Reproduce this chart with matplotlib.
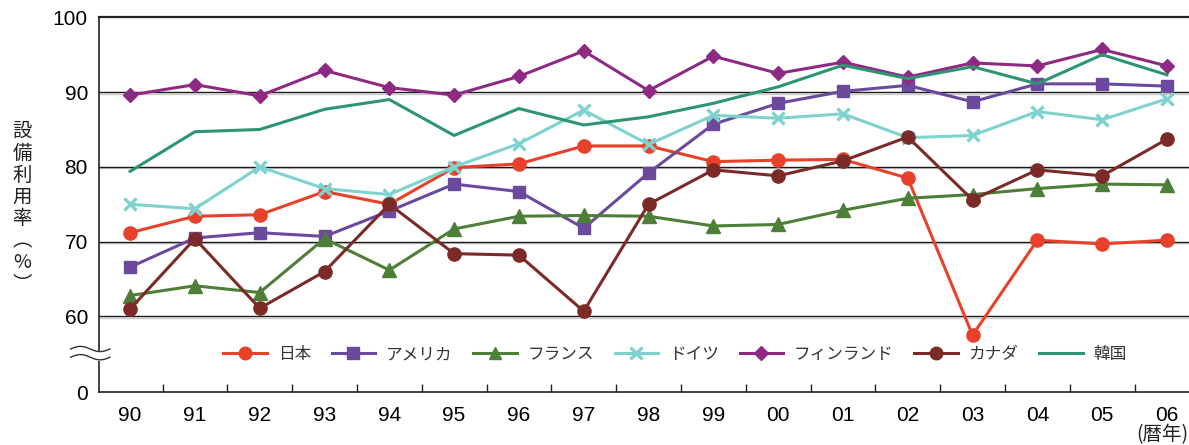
import numpy as np
import matplotlib.pyplot as plt
import matplotlib.transforms as mtransforms

plt.rcParams['font.family'] = ['Liberation Sans', 'Noto Sans CJK JP', 'DejaVu Sans']

# data (capacity factor, %)
years = ['90', '91', '92', '93', '94', '95', '96', '97', '98', '99',
         '00', '01', '02', '03', '04', '05', '06']
japan = [71.2, 73.4, 73.6, 76.7, 75.0, 79.9, 80.4, 82.8, 82.8, 80.7,
         80.9, 81.0, 78.5, 57.5, 70.2, 69.7, 70.2]
usa = [66.6, 70.5, 71.2, 70.7, 74.1, 77.7, 76.7, 71.8, 79.2, 85.7,
       88.5, 90.1, 90.9, 88.7, 91.1, 91.1, 90.8]
france = [62.8, 64.1, 63.2, 70.4, 66.2, 71.7, 73.4, 73.5, 73.4, 72.1,
          72.3, 74.2, 75.8, 76.3, 77.1, 77.7, 77.6]
germany = [75.0, 74.4, 80.0, 77.1, 76.3, 80.0, 83.1, 87.6, 83.0, 86.9,
           86.5, 87.1, 83.9, 84.2, 87.4, 86.3, 89.1]
finland = [89.6, 91.0, 89.5, 92.9, 90.6, 89.6, 92.1, 95.5, 90.2, 94.8,
           92.5, 94.0, 92.0, 93.9, 93.5, 95.7, 93.5]
canada = [61.0, 70.4, 61.1, 66.0, 75.0, 68.4, 68.2, 60.7, 75.0, 79.6,
          78.8, 80.8, 84.0, 75.6, 79.6, 78.8, 83.7]
korea = [79.4, 84.7, 85.0, 87.7, 89.0, 84.2, 87.8, 85.6, 86.7, 88.5,
         90.7, 93.6, 91.8, 93.4, 91.1, 95.0, 92.3]

series_names = ['日本', 'アメリカ', 'フランス', 'ドイツ', 'フィンランド', 'カナダ', '韓国']
series_data = [japan, usa, france, germany, finland, canada, korea]
colors = ['#E8412A', '#6B4A9E', '#4E7F38', '#7FD3CF', '#8E2A84', '#7B2A27', '#2E9572']
markers = ['o', 's', '^', 'x', 'D', 'o', None]
msizes = [9.5, 9, 9.5, 9, 7, 9.5, 0]

y_ticks = [60, 70, 80, 90, 100]
y_bottom = 49.9  # the "0" at the bottom, after the axis break

fig = plt.figure(figsize=(11.89, 4.45), dpi=100)
ax = fig.add_axes([99 / 1189, 1 - 392 / 445, 1 - 99 / 1189, (392 - 17.3) / 445])

x = np.arange(len(years))
for name, vals, c, m, ms in zip(series_names, series_data, colors, markers, msizes):
    if m == 'x':
        ax.plot(x, vals, color=c, lw=2.2, marker=m, ms=ms, mew=2.4, label=name)
    elif m is None:
        ax.plot(x, vals, color=c, lw=2.2, label=name)
    else:
        ax.plot(x, vals, color=c, lw=2.2, marker=m, ms=ms, mec=c, label=name)

# gridlines with a faint grey shadow below
for v in y_ticks[:-1]:
    ax.axhline(v - 0.2, color='#cccccc', lw=1.0, zorder=0.3)
    ax.axhline(v, color='#1a1a1a', lw=1.0, zorder=0.5)

ax.set_xlim(-0.48, 16.34)
ax.set_ylim(y_bottom, 100)
ax.set_yticks([y_bottom] + y_ticks)
ax.set_yticklabels(['0'] + [str(v) for v in y_ticks], fontsize=15)
ax.tick_params(axis='y', length=0, pad=8)
ax.set_xticks(x)
ax.set_xticklabels(years, fontsize=15)
ax.set_xticks(x[:-1] + 0.5, minor=True)
ax.tick_params(axis='x', which='major', length=0, pad=10)
ax.tick_params(axis='x', which='minor', direction='in', length=6, width=1, color='#222222')

ax.spines['right'].set_visible(False)
ax.spines['top'].set_linewidth(1.6)
for s in ['top', 'left', 'bottom']:
    ax.spines[s].set_color('#222222')
ax.spines['left'].set_linewidth(1.2)
ax.spines['bottom'].set_linewidth(1.2)

# axis break mark
trans = mtransforms.blended_transform_factory(ax.transAxes, ax.transData)
bx = np.linspace(-0.026, 0.010, 60)
wave = 0.35 * np.sin((bx - bx[0]) / (bx[-1] - bx[0]) * 2 * np.pi)
yb = 55.1
ax.fill_between(bx, yb - 0.55 + wave, yb + 0.55 + wave, color='white', transform=trans,
                clip_on=False, zorder=5)
ax.plot(bx, yb + 0.55 + wave, color='#333333', lw=1.0, transform=trans, clip_on=False, zorder=6)
ax.plot(bx, yb - 0.55 + wave, color='#333333', lw=1.0, transform=trans, clip_on=False, zorder=6)

ax.legend(loc='center', bbox_to_anchor=((675 - 99) / 1090, 54.9), bbox_transform=trans,
          ncol=7, frameon=False, prop={'family': ['Noto Sans CJK JP'], 'size': 12},
          handlelength=2.6, handletextpad=0.65, columnspacing=1.25, markerscale=0.95,
          labelcolor='#333333')

# y label, stacked vertically
fig.text(22 / 1189, 1 - 208 / 445, '設\n備\n利\n用\n率\n︵\n%\n︶', family=['Noto Sans CJK JP'],
         fontsize=14, ha='center', va='center', linespacing=1.05, color='#222222')
fig.text(1162 / 1189, 1 - 435 / 445, '(暦年)', family=['Noto Sans CJK JP'],
         fontsize=14, ha='center', va='center', color='#222222')

fig.savefig('out.png', dpi=100)
